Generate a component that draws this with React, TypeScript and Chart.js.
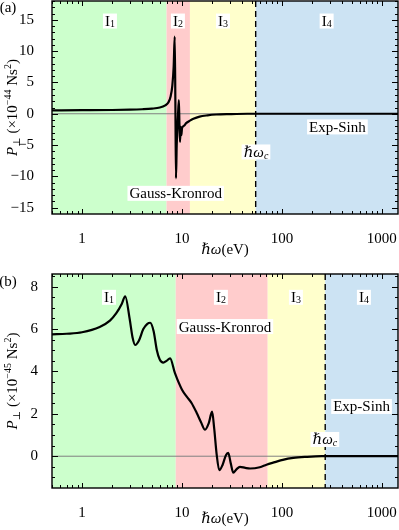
import React, { useEffect, useRef } from "react";
import { Chart, registerables } from "chart.js";

Chart.register(...registerables);

const FONT = '"Liberation Serif", "DejaVu Serif", serif';

// ---------- data ----------
const X_MIN = 0.5;
const X_MAX = 1450;
const xTicks = [1, 10, 100, 1000];

// Panel (a): P_perp (x10^-44 Ns^2) vs hbar*omega (eV)
const energyA = [0.5, 1, 2, 3, 4, 5, 6, 6.8, 7.3, 7.7, 8.0, 8.25, 8.45, 8.58, 8.7, 8.85, 9.1, 9.3, 9.42, 9.55, 9.7, 9.85, 10, 10.5, 11, 12, 13, 15, 18, 22, 30, 45, 100, 1450];
const powerA = [0.55, 0.57, 0.6, 0.65, 0.72, 0.82, 1.0, 1.35, 1.8, 2.8, 4.5, 7.5, 12.3, 2, -10.3, -5, -0.5, 2.2, -1.5, -4.5, -2.1, -3.4, -2.3, -1.9, -1.5, -1.1, -0.8, -0.45, -0.25, -0.12, -0.05, 0, 0, 0];
const yTicksA = [-15, -10, -5, 0, 5, 10, 15];
const edgesA = [X_MIN, 7, 12, 54.6, X_MAX];
const cutoffA = 54.6;

// Panel (b): P_perp (x10^-45 Ns^2) vs hbar*omega (eV)
const energyB = [0.5, 0.7, 1, 1.5, 1.9, 2.2, 2.5, 2.7, 3.0, 3.2, 3.4, 3.7, 4.1, 4.5, 4.8, 5.2, 5.6, 6.0, 6.5, 7.0, 7.6, 8.5, 10, 11.2, 12.5, 14, 15.5, 17, 18.5, 20, 21, 22.2, 23.6, 25.5, 27.5, 29, 30.8, 32.6, 35, 38, 43, 48, 60, 70, 85, 102, 130, 176, 250, 1450];
const powerB = [5.75, 5.78, 5.85, 6.1, 6.4, 6.75, 7.2, 7.55, 6.45, 5.6, 5.25, 5.45, 6.0, 6.25, 6.3, 5.9, 5.0, 4.55, 4.42, 4.5, 4.62, 3.92, 3.14, 2.8, 2.5, 2.05, 1.6, 1.25, 1.55, 2.1, 1.3, 0.1, -0.66, -0.4, 0.05, 0.16, -0.35, -0.78, -0.62, -0.5, -0.55, -0.58, -0.52, -0.4, -0.28, -0.17, -0.08, -0.03, 0, 0];
const yTicksB = [0, 2, 4, 6, 8];
const edgesB = [X_MIN, 8.65, 72, 271, X_MAX];
const cutoffB = 271;

const regionColors = ["#ccffcc", "#ffcccc", "#ffffcc", "#cce3f3"];
const regionNames = ["1", "2", "3", "4"];

// ---------- drawing helpers ----------
type Seg = { t: string; size: number; italic?: boolean; dy?: number };

const segFont = (s: Seg) => `${s.italic ? "italic " : ""}${s.size}px ${FONT}`;

function measureSegs(ctx: CanvasRenderingContext2D, segs: Seg[]) {
  let w = 0;
  for (const s of segs) {
    ctx.font = segFont(s);
    w += ctx.measureText(s.t).width;
  }
  return w;
}

function drawSegs(ctx: CanvasRenderingContext2D, segs: Seg[], x: number, baseline: number) {
  let cx = x;
  ctx.textAlign = "left";
  ctx.textBaseline = "alphabetic";
  for (const s of segs) {
    ctx.font = segFont(s);
    ctx.fillText(s.t, cx, baseline + (s.dy || 0));
    cx += ctx.measureText(s.t).width;
  }
}

function drawLabel(ctx: CanvasRenderingContext2D, segs: Seg[], cx: number, cy: number, box: boolean) {
  const w = measureSegs(ctx, segs);
  if (box) {
    ctx.fillStyle = "#ffffff";
    ctx.fillRect(cx - w / 2 - 2, cy - 7.5, w + 4, 15);
  }
  ctx.fillStyle = "#000";
  drawSegs(ctx, segs, cx - w / 2, cy + 5);
}

const regionSegs = (n: string): Seg[] => [
  { t: "I", size: 15 },
  { t: n, size: 10, dy: 1 },
];
const gaussSegs: Seg[] = [{ t: "Gauss-Kronrod", size: 15 }];
const expSegs: Seg[] = [{ t: "Exp-Sinh", size: 15 }];
const cutoffSegs: Seg[] = [
  { t: "ℏω", size: 15, italic: true },
  { t: "c", size: 10, italic: true, dy: 2 },
];
const xTitleSegs: Seg[] = [
  { t: "ℏω", size: 15, italic: true },
  { t: "(eV)", size: 15 },
];
const yTitleSegs = (exp: string): Seg[] => [
  { t: "P", size: 15, italic: true },
  { t: "⊥", size: 10, dy: 3 },
  { t: " (×10", size: 15 },
  { t: exp, size: 10, dy: -6 },
  { t: " Ns", size: 15 },
  { t: "2", size: 10, dy: -6 },
  { t: ")", size: 15 },
];

type PanelCfg = {
  energy: number[];
  power: number[];
  yMin: number;
  yMax: number;
  yTicks: number[];
  yMinorStep: number;
  edges: number[];
  cutoff: number;
  tag: string;
  tagY: number;
  exponent: string;
  height: number;
  padTop: number;
  xAxisHeight: number;
  yTickPad: number;
  xTitleOffset: number;
  regionLabelX: number[];
  regionLabelY: number;
  gauss: [number, number];
  exp: [number, number];
  hw: [number, number];
};

function makePlugin(cfg: PanelCfg) {
  return {
    id: "panelDecor",
    beforeDatasetsDraw(chart: any) {
      const { ctx, chartArea: a, scales } = chart;
      const xs = scales.x;
      const ys = scales.y;
      ctx.save();
      for (let i = 0; i < regionColors.length; i++) {
        const x0 = Math.max(a.left, xs.getPixelForValue(cfg.edges[i]));
        const x1 = Math.min(a.right, xs.getPixelForValue(cfg.edges[i + 1]));
        ctx.fillStyle = regionColors[i];
        ctx.fillRect(x0, a.top, x1 - x0, a.bottom - a.top);
      }
      const y0 = ys.getPixelForValue(0);
      ctx.strokeStyle = "#808080";
      ctx.lineWidth = 1;
      ctx.beginPath();
      ctx.moveTo(a.left, y0);
      ctx.lineTo(a.right, y0);
      ctx.stroke();
      const xc = xs.getPixelForValue(cfg.cutoff);
      ctx.strokeStyle = "#000";
      ctx.lineWidth = 1.4;
      ctx.setLineDash([6, 4]);
      ctx.beginPath();
      ctx.moveTo(xc, a.top);
      ctx.lineTo(xc, a.bottom);
      ctx.stroke();
      ctx.restore();
    },
    afterDatasetsDraw(chart: any) {
      const { ctx, chartArea: a, scales } = chart;
      const xs = scales.x;
      const ys = scales.y;
      ctx.save();
      ctx.strokeStyle = "#000";
      ctx.lineWidth = 1;
      const vtick = (v: number, len: number) => {
        const px = Math.round(xs.getPixelForValue(v)) + 0.5;
        if (px < a.left || px > a.right) return;
        ctx.beginPath();
        ctx.moveTo(px, a.bottom);
        ctx.lineTo(px, a.bottom - len);
        ctx.moveTo(px, a.top);
        ctx.lineTo(px, a.top + len);
        ctx.stroke();
      };
      const htick = (v: number, len: number) => {
        const py = Math.round(ys.getPixelForValue(v)) + 0.5;
        if (py < a.top || py > a.bottom) return;
        ctx.beginPath();
        ctx.moveTo(a.left, py);
        ctx.lineTo(a.left + len, py);
        ctx.moveTo(a.right, py);
        ctx.lineTo(a.right - len, py);
        ctx.stroke();
      };
      for (const d of [0.1, 1, 10, 100, 1000]) {
        for (let k = 2; k <= 9; k++) vtick(d * k, 3);
      }
      for (const v of xTicks) vtick(v, 5);
      for (let v = Math.ceil(cfg.yMin / cfg.yMinorStep) * cfg.yMinorStep; v <= cfg.yMax; v += cfg.yMinorStep) htick(v, 3);
      for (const v of cfg.yTicks) htick(v, 6);
      ctx.lineWidth = 1.4;
      ctx.strokeRect(a.left, a.top, a.right - a.left, a.bottom - a.top);

      for (let i = 0; i < 4; i++) {
        drawLabel(ctx, regionSegs(regionNames[i]), xs.getPixelForValue(cfg.regionLabelX[i]), ys.getPixelForValue(cfg.regionLabelY), true);
      }
      drawLabel(ctx, gaussSegs, xs.getPixelForValue(cfg.gauss[0]), ys.getPixelForValue(cfg.gauss[1]), true);
      drawLabel(ctx, expSegs, xs.getPixelForValue(cfg.exp[0]), ys.getPixelForValue(cfg.exp[1]), true);
      drawLabel(ctx, cutoffSegs, xs.getPixelForValue(cfg.hw[0]), ys.getPixelForValue(cfg.hw[1]), true);

      drawLabel(ctx, xTitleSegs, (a.left + a.right) / 2, a.bottom + cfg.xTitleOffset, false);
      const ySegs = yTitleSegs(cfg.exponent);
      const w = measureSegs(ctx, ySegs);
      ctx.translate(12, (a.top + a.bottom) / 2);
      ctx.rotate(-Math.PI / 2);
      ctx.fillStyle = "#000";
      drawSegs(ctx, ySegs, -w / 2, 5);
      ctx.setTransform(1, 0, 0, 1, 0, 0);
      ctx.font = `15px ${FONT}`;
      ctx.textAlign = "center";
      ctx.textBaseline = "middle";
      ctx.fillText(cfg.tag, 8, cfg.tagY);
      ctx.restore();
    },
  };
}

const fmtY = (v: any) => {
  const n = Number(v);
  return n < 0 ? "−" + Math.abs(n) : String(n);
};

function Panel({ cfg }: { cfg: PanelCfg }) {
  const ref = useRef<HTMLCanvasElement>(null);
  useEffect(() => {
    const canvas = ref.current!;
    const chart = new Chart(canvas, {
      type: "line",
      data: {
        datasets: [
          {
            data: cfg.energy.map((e, i) => ({ x: e, y: cfg.power[i] })),
            borderColor: "#000",
            borderWidth: 2.2,
            pointRadius: 0,
            cubicInterpolationMode: "monotone",
            fill: false,
          } as any,
        ],
      },
      options: {
        responsive: false,
        animation: false,
        devicePixelRatio: 1,
        layout: { padding: { left: 0, right: 1, top: cfg.padTop, bottom: 0 } },
        plugins: { legend: { display: false }, tooltip: { enabled: false } },
        scales: {
          x: {
            type: "logarithmic",
            min: X_MIN,
            max: X_MAX,
            grid: { display: false },
            border: { display: false },
            afterBuildTicks: (s: any) => {
              s.ticks = xTicks.map((v) => ({ value: v }));
            },
            afterFit: (s: any) => {
              s.height = cfg.xAxisHeight;
              s.paddingLeft = 0;
              s.paddingRight = 0;
              s.paddingTop = 0;
              s.paddingBottom = 0;
            },
            ticks: {
              autoSkip: false,
              maxRotation: 0,
              padding: 8,
              color: "#000",
              font: { family: FONT, size: 15 },
              callback: (v: any) => String(v),
            },
          },
          y: {
            min: cfg.yMin,
            max: cfg.yMax,
            grid: { display: false },
            border: { display: false },
            afterBuildTicks: (s: any) => {
              s.ticks = cfg.yTicks.map((v) => ({ value: v }));
            },
            afterFit: (s: any) => {
              s.width = 52;
              s.paddingLeft = 0;
              s.paddingRight = 0;
              s.paddingTop = 0;
              s.paddingBottom = 0;
            },
            ticks: {
              padding: cfg.yTickPad,
              color: "#000",
              font: { family: FONT, size: 15 },
              callback: fmtY,
            },
          },
        },
      } as any,
      plugins: [makePlugin(cfg)],
    });
    return () => chart.destroy();
  }, [cfg]);
  return <canvas ref={ref} width={399} height={cfg.height} style={{ display: "block", width: 399, height: cfg.height }} />;
}

const panelA: PanelCfg = {
  energy: energyA,
  power: powerA,
  yMin: -16,
  yMax: 18,
  yTicks: yTicksA,
  yMinorStep: 1,
  edges: edgesA,
  cutoff: cutoffA,
  tag: "(a)",
  tagY: 8,
  exponent: "−44",
  height: 258,
  padTop: 1,
  xAxisHeight: 44,
  yTickPad: 10,
  xTitleOffset: 35,
  regionLabelX: [1.9, 9.1, 25.7, 280],
  regionLabelY: 14.8,
  gauss: [8.65, -12.7],
  exp: [359, -2.1],
  hw: [55, -6.1],
};

const panelB: PanelCfg = {
  energy: energyB,
  power: powerB,
  yMin: -1.5,
  yMax: 8.6,
  yTicks: yTicksB,
  yMinorStep: 0.5,
  edges: edgesB,
  cutoff: cutoffB,
  tag: "(b)",
  tagY: 24,
  exponent: "−45",
  height: 272,
  padTop: 16,
  xAxisHeight: 42,
  yTickPad: 6,
  xTitleOffset: 30,
  regionLabelX: [1.86, 24.5, 138, 661],
  regionLabelY: 7.5,
  gauss: [26.9, 6.12],
  exp: [626, 2.35],
  hw: [269, 0.79],
};

export default function App() {
  return (
    <div style={{ position: "absolute", left: 0, top: 0, width: 399, height: 530, background: "#fff" }}>
      <Panel cfg={panelA} />
      <Panel cfg={panelB} />
    </div>
  );
}
